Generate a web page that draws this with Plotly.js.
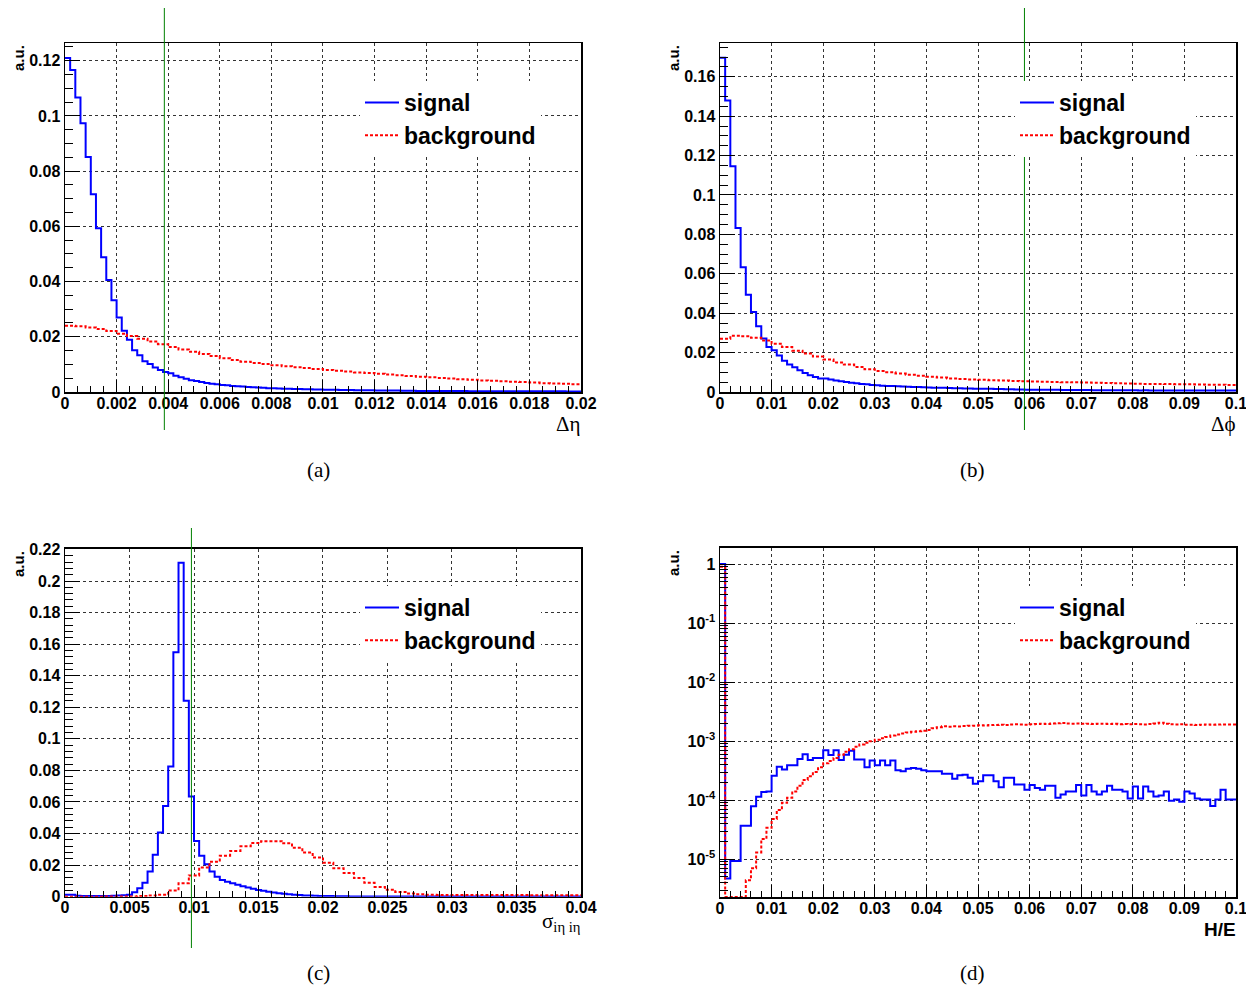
<!DOCTYPE html>
<html><head><meta charset="utf-8">
<script src="https://cdn.plot.ly/plotly-3.0.1.min.js"></script>
<style>html,body{margin:0;padding:0;background:#fff}#chart{width:1246px;height:988px}</style>
</head><body><div id="chart"></div>
<script>
// ---------------- data ----------------
const seriesNames = ['signal', 'background'];
const panelLabels = ['(a)', '(b)', '(c)', '(d)'];
const xTitles = ['Δη', 'Δϕ', 'σ<sub>iη iη</sub>', '<b>H/E</b>'];
const yTitle = 'a.u.';

// panel (a): Δη, signal 100 bins of 0.0002, background 50 bins of 0.0004
const binSigA = 0.0002, binBkgA = 0.0004;
const sigA = [0.121, 0.1166, 0.1067, 0.0973, 0.0851, 0.0716, 0.0593, 0.0488, 0.0406, 0.0332,
  0.0270, 0.0222, 0.0189, 0.0151, 0.0133, 0.0111, 0.0101, 0.0089, 0.0080, 0.0072,
  0.0068, 0.0059, 0.0053, 0.0048, 0.0043, 0.0040, 0.0036, 0.0033, 0.0030, 0.0028,
  0.0025, 0.0024, 0.0022, 0.0021, 0.0020, 0.0018, 0.0017, 0.0016, 0.0015, 0.0014,
  0.0014, 0.0013, 0.0012, 0.0012, 0.0011, 0.0011, 0.0010, 0.0010, 0.0009, 0.0009,
  0.00085, 0.0008, 0.0008, 0.00075, 0.0007, 0.0007, 0.00065, 0.00065, 0.0006, 0.0006,
  0.00055, 0.00055, 0.0005, 0.0005, 0.0005, 0.00045, 0.00045, 0.00045, 0.0004, 0.0004,
  0.0004, 0.0004, 0.00038, 0.00036, 0.00035, 0.00034, 0.00033, 0.00032, 0.00031, 0.0003,
  0.0003, 0.0003, 0.00029, 0.00028, 0.00028, 0.00027, 0.00027, 0.00026, 0.00026, 0.00025,
  0.00025, 0.00025, 0.00024, 0.00024, 0.00023, 0.00023, 0.00023, 0.00022, 0.00022, 0.00022];
const bkgA = [0.0240, 0.0238, 0.0234, 0.0228, 0.0221, 0.0211, 0.0203, 0.0193, 0.0183, 0.0173,
  0.0163, 0.0154, 0.0146, 0.0138, 0.0130, 0.0122, 0.0116, 0.0110, 0.0105, 0.0101,
  0.0097, 0.0093, 0.0090, 0.0087, 0.0083, 0.0080, 0.0077, 0.0074, 0.0071, 0.0069,
  0.0066, 0.0063, 0.0061, 0.0058, 0.0055, 0.0053, 0.0051, 0.0049, 0.0046, 0.0044,
  0.0042, 0.0041, 0.0039, 0.0037, 0.0036, 0.0034, 0.0032, 0.0031, 0.0030, 0.0028];

// panel (b): Δϕ, signal 100 bins of 0.001, background 50 bins of 0.002
const binSigB = 0.001, binBkgB = 0.002;
const sigB = [0.1697, 0.1480, 0.1146, 0.0833, 0.0633, 0.0494, 0.0406, 0.0334, 0.0271, 0.0229,
  0.0212, 0.0185, 0.0159, 0.0139, 0.0125, 0.0110, 0.0097, 0.0085, 0.0076, 0.0069,
  0.0068, 0.0063, 0.0058, 0.0054, 0.0051, 0.0047, 0.0044, 0.0041, 0.0039, 0.0036,
  0.0034, 0.0032, 0.0031, 0.0030, 0.0029, 0.0028, 0.0027, 0.0026, 0.0025, 0.0024,
  0.0023, 0.0022, 0.0021, 0.0021, 0.0020, 0.0019, 0.0019, 0.0018, 0.0018, 0.0017,
  0.0017, 0.0016, 0.0016, 0.0015, 0.0015, 0.0014, 0.0014, 0.0013, 0.0013, 0.0012,
  0.0012, 0.0012, 0.0011, 0.0011, 0.0011, 0.0011, 0.0010, 0.0010, 0.0010, 0.0010,
  0.0010, 0.0010, 0.0009, 0.0009, 0.0009, 0.0009, 0.0009, 0.0009, 0.0009, 0.0009,
  0.0009, 0.0008, 0.0009, 0.0008, 0.0008, 0.0008, 0.0008, 0.0008, 0.0008, 0.0008,
  0.0008, 0.0007, 0.0008, 0.0007, 0.0007, 0.0007, 0.0007, 0.0007, 0.0007, 0.0007];
const bkgB = [0.0270, 0.0286, 0.0283, 0.0275, 0.0262, 0.0245, 0.0228, 0.0210, 0.0195, 0.0180,
  0.0165, 0.0150, 0.0139, 0.0127, 0.0115, 0.0107, 0.0100, 0.0094, 0.0088, 0.0083,
  0.0078, 0.0074, 0.0069, 0.0066, 0.0064, 0.0062, 0.0060, 0.0058, 0.0056, 0.0055,
  0.0053, 0.0052, 0.0051, 0.0050, 0.0049, 0.0048, 0.0047, 0.0046, 0.0044, 0.0043,
  0.0042, 0.0041, 0.0041, 0.0040, 0.0039, 0.0039, 0.0038, 0.0037, 0.0037, 0.0036];

// panel (c): σiηiη, signal 100 bins of 0.0004, background 50 bins of 0.0008
const binSigC = 0.0004, binBkgC = 0.0008;
const sigC = [0.0012, 0.0012, 0.0006, 0.0005, 0.0005, 0.0005, 0.0005, 0.0005, 0.0005, 0.0006,
  0.0007, 0.0009, 0.0012, 0.0028, 0.0053, 0.0089, 0.0159, 0.0265, 0.0406, 0.0575,
  0.0825, 0.1548, 0.2115, 0.1242, 0.0635, 0.0353, 0.0260, 0.0205, 0.0159, 0.0127,
  0.0106, 0.0095, 0.0085, 0.0075, 0.0066, 0.0058, 0.0050, 0.0043, 0.0037, 0.0031,
  0.0026, 0.0022, 0.0018, 0.0015, 0.0012, 0.0010, 0.0008, 0.0007, 0.0006, 0.0005,
  0.0004, 0.0004, 0.0003, 0.0003, 0.0003, 0.0002, 0.0002, 0.0002, 0.0002, 0.0002,
  0.0002, 0.0002, 0.0002, 0.0002, 0.0002, 0.0002, 0.0002, 0.0002, 0.0002, 0.0002,
  0.0002, 0.0002, 0.0002, 0.0002, 0.0002, 0.0002, 0.0002, 0.0002, 0.0002, 0.0002,
  0.0002, 0.0002, 0.0002, 0.0002, 0.0002, 0.0002, 0.0002, 0.0002, 0.0002, 0.0002,
  0.0002, 0.0002, 0.0002, 0.0002, 0.0002, 0.0002, 0.0002, 0.0002, 0.0002, 0.0002];
const bkgC = [0, 0, 0, 0, 0.0001, 0.0001, 0.0002, 0.0004, 0.0008, 0.0012,
  0.0040, 0.0085, 0.0135, 0.0185, 0.0222, 0.0260, 0.0290, 0.0320, 0.0340, 0.0352,
  0.0352, 0.0338, 0.0310, 0.0280, 0.0248, 0.0215, 0.0180, 0.0150, 0.0118, 0.0088,
  0.0062, 0.0044, 0.0030, 0.0020, 0.0015, 0.0012, 0.0011, 0.0010, 0.0010, 0.0010,
  0.0010, 0.0010, 0.0010, 0.0010, 0.0010, 0.0009, 0.0009, 0.0009, 0.0009, 0.0009];

// panel (d): H/E, both 100 bins of 0.001 (log scale)
const binSigD = 0.001, binBkgD = 0.001;
const sigD = [1.0, 4.7e-6, 9.3e-6, 9.3e-6, 3.7e-5, 3.7e-5, 7.9e-5, 1.14e-4, 1.37e-4, 1.4e-4,
  2.6e-4, 3.67e-4, 3.3e-4, 3.9e-4, 3.9e-4, 5.0e-4, 6.0e-4, 4.8e-4, 5.2e-4, 5.2e-4,
  7.0e-4, 5.8e-4, 7.0e-4, 4.8e-4, 5.9e-4, 6.9e-4, 4.9e-4, 4.9e-4, 3.6e-4, 4.7e-4,
  3.9e-4, 4.7e-4, 3.9e-4, 4.7e-4, 3.2e-4, 3.1e-4, 3.4e-4, 3.5e-4, 3.4e-4, 3.2e-4,
  3.1e-4, 3.1e-4, 3.1e-4, 2.8e-4, 2.8e-4, 2.3e-4, 2.65e-4, 2.7e-4, 2.4e-4, 1.9e-4,
  2.1e-4, 2.65e-4, 2.65e-4, 2.1e-4, 1.65e-4, 2.4e-4, 2.4e-4, 1.85e-4, 1.85e-4, 1.5e-4,
  1.8e-4, 1.6e-4, 1.5e-4, 1.75e-4, 1.75e-4, 1.1e-4, 1.25e-4, 1.4e-4, 1.4e-4, 1.8e-4,
  1.2e-4, 1.8e-4, 1.4e-4, 1.25e-4, 1.4e-4, 1.75e-4, 1.5e-4, 1.5e-4, 1.4e-4, 1.07e-4,
  1.7e-4, 1.07e-4, 1.7e-4, 1.4e-4, 1.15e-4, 1.2e-4, 1.4e-4, 9.8e-5, 1.03e-4, 9.4e-5,
  1.4e-4, 1.3e-4, 1.07e-4, 1.03e-4, 1.03e-4, 8.0e-5, 1.03e-4, 1.5e-4, 1.03e-4, 1.03e-4];
const bkgD = [0.9, 0, 0, 0, 0, 4.4e-6, 7e-6, 1.3e-5, 2.2e-5, 3.4e-5,
  4.8e-5, 6.8e-5, 9e-5, 1.1e-4, 1.4e-4, 1.75e-4, 2.2e-4, 2.55e-4, 3.0e-4, 3.6e-4,
  4.2e-4, 4.6e-4, 5.2e-4, 5.9e-4, 6.6e-4, 7.3e-4, 8.0e-4, 8.8e-4, 9.4e-4, 1.0e-3,
  1.05e-3, 1.12e-3, 1.18e-3, 1.25e-3, 1.3e-3, 1.35e-3, 1.4e-3, 1.44e-3, 1.47e-3, 1.5e-3,
  1.55e-3, 1.65e-3, 1.72e-3, 1.78e-3, 1.75e-3, 1.78e-3, 1.77e-3, 1.8e-3, 1.82e-3, 1.83e-3,
  1.85e-3, 1.84e-3, 1.87e-3, 1.88e-3, 1.9e-3, 1.88e-3, 1.92e-3, 1.93e-3, 1.92e-3, 1.9e-3,
  1.93e-3, 1.95e-3, 1.97e-3, 1.95e-3, 1.98e-3, 2.0e-3, 2.03e-3, 1.98e-3, 1.97e-3, 1.98e-3,
  1.96e-3, 1.97e-3, 1.95e-3, 1.97e-3, 1.96e-3, 1.95e-3, 1.96e-3, 1.94e-3, 1.95e-3, 1.93e-3,
  1.95e-3, 1.94e-3, 1.92e-3, 1.95e-3, 1.98e-3, 2.05e-3, 1.96e-3, 1.93e-3, 1.92e-3, 1.94e-3,
  1.9e-3, 1.9e-3, 1.87e-3, 1.9e-3, 1.92e-3, 1.9e-3, 1.91e-3, 1.92e-3, 1.92e-3, 1.92e-3];

// cut values (green lines)
const cuts = [0.00385, 0.059, 0.0098];

// log-axis tick labels for panel (d)
const dTickVals = [1, 0.1, 0.01, 0.001, 0.0001, 0.00001];
const dTickText = ['1', '10<sup>-1</sup>', '10<sup>-2</sup>', '10<sup>-3</sup>', '10<sup>-4</sup>', '10<sup>-5</sup>'];

// ---------------- drawing ----------------
const W = 1246, H = 988;
const px = p => p / W;
const py = p => 1 - p / H;
const yMinD = Math.pow(10, -5.64);

function steps(width, vals, floor) {
  const x = [], y = [];
  vals.forEach((v, i) => { x.push(i * width); y.push(floor !== undefined && v <= 0 ? floor : v); });
  x.push(vals.length * width); y.push(y[y.length - 1]);
  return {x, y};
}

const BLUE = 'rgb(0,0,255)', RED = 'rgb(255,0,0)';
function sigTrace(width, vals, k, floor) {
  const s = steps(width, vals, floor);
  return {x: s.x, y: s.y, type: 'scatter', mode: 'lines', line: {shape: 'hv', color: BLUE, width: 2},
    name: seriesNames[0], xaxis: 'x' + (k === 1 ? '' : k), yaxis: 'y' + (k === 1 ? '' : k),
    legend: k === 1 ? 'legend' : 'legend' + k, showlegend: true, hoverinfo: 'skip'};
}
function bkgTrace(width, vals, k, floor) {
  const s = steps(width, vals, floor);
  return {x: s.x, y: s.y, type: 'scatter', mode: 'lines', line: {shape: 'hv', color: RED, width: 2, dash: '3px,2px'},
    name: seriesNames[1], xaxis: 'x' + (k === 1 ? '' : k), yaxis: 'y' + (k === 1 ? '' : k),
    legend: k === 1 ? 'legend' : 'legend' + k, showlegend: true, hoverinfo: 'skip'};
}

const data = [
  sigTrace(binSigA, sigA, 1), bkgTrace(binBkgA, bkgA, 1),
  sigTrace(binSigB, sigB, 2), bkgTrace(binBkgB, bkgB, 2),
  sigTrace(binSigC, sigC, 3), bkgTrace(binBkgC, bkgC, 3),
  sigTrace(binSigD, sigD, 4, yMinD), bkgTrace(binBkgD, bkgD, 4, yMinD)
];

const tickFont = {family: 'Liberation Sans, Arial, sans-serif', size: 16, color: '#000', weight: 'bold'};
function axis(extra) {
  return Object.assign({
    showline: true, linecolor: '#000', linewidth: 1.5, mirror: true,
    ticks: 'inside', tickcolor: '#000', tickwidth: 1,
    showgrid: true, gridcolor: '#333', griddash: 'dot', gridwidth: 1,
    zeroline: false, tickfont: tickFont, fixedrange: true, ticklabelstandoff: 0,
    ticklabeloverflow: 'allow'
  }, extra);
}
const xDomL = [px(65), px(581)], xDomR = [px(720), px(1236)];
const yDomT = [py(392), py(43.3)];
const yDomB = [py(896.7), py(548.5)];

const legFont = {family: 'Liberation Sans, Arial, sans-serif', size: 23, color: '#000', weight: 'bold'};
function leg(xp, yp) {
  return {x: px(xp), y: py(yp), xanchor: 'left', yanchor: 'top', bgcolor: '#fff', borderwidth: 0,
    font: legFont, itemwidth: 34, tracegroupgap: 0};
}

const layout = {
  width: W, height: H, margin: {l: 0, r: 0, t: 0, b: 0},
  paper_bgcolor: '#fff', plot_bgcolor: '#fff', showlegend: true,
  xaxis: axis({domain: xDomL, anchor: 'y', range: [0, 0.020001], dtick: 0.002, tick0: 0, ticklen: 12, ticklabelstandoff: -4,
    minor: {ticks: 'inside', ticklen: 6, dtick: 0.0005, tickcolor: '#000', showgrid: false}}),
  yaxis: axis({domain: yDomT, anchor: 'x', range: [0, 0.1263], dtick: 0.02, tick0: 0, ticklen: 15,
    minor: {ticks: 'inside', ticklen: 8, dtick: 0.005, tickcolor: '#000', showgrid: false}}),
  xaxis2: axis({domain: xDomR, anchor: 'y2', range: [0, 0.100001], dtick: 0.01, tick0: 0, ticklen: 12, ticklabelstandoff: -4,
    minor: {ticks: 'inside', ticklen: 6, dtick: 0.002, tickcolor: '#000', showgrid: false}}),
  yaxis2: axis({domain: yDomT, anchor: 'x2', range: [0, 0.177], dtick: 0.02, tick0: 0, ticklen: 15,
    minor: {ticks: 'inside', ticklen: 8, dtick: 0.005, tickcolor: '#000', showgrid: false}}),
  xaxis3: axis({domain: xDomL, anchor: 'y3', range: [0, 0.040001], dtick: 0.005, tick0: 0, ticklen: 12, ticklabelstandoff: -4,
    minor: {ticks: 'inside', ticklen: 6, dtick: 0.001, tickcolor: '#000', showgrid: false}}),
  yaxis3: axis({domain: yDomB, anchor: 'x3', range: [0, 0.2206], dtick: 0.02, tick0: 0, ticklen: 15,
    minor: {ticks: 'inside', ticklen: 8, dtick: 0.004, tickcolor: '#000', showgrid: false}}),
  xaxis4: axis({domain: xDomR, anchor: 'y4', range: [0, 0.100001], dtick: 0.01, tick0: 0, ticklen: 12, ticklabelstandoff: -4,
    minor: {ticks: 'inside', ticklen: 6, dtick: 0.002, tickcolor: '#000', showgrid: false}}),
  yaxis4: axis({domain: [py(897), py(547.7)], anchor: 'x4', type: 'log', range: [-5.64, 0.276],
    tickmode: 'array', tickvals: dTickVals, ticktext: dTickText, ticklen: 15,
    minor: {ticks: 'inside', ticklen: 8, dtick: 'D1', tickcolor: '#000', showgrid: false}}),
  legend: leg(360, 81),
  legend2: leg(1015, 81),
  legend3: leg(360, 586),
  legend4: leg(1015, 586),
  shapes: [
    {type: 'line', xref: 'x', yref: 'paper', x0: cuts[0], x1: cuts[0], y0: py(430), y1: py(8), line: {color: 'rgb(0,128,0)', width: 1}},
    {type: 'line', xref: 'x2', yref: 'paper', x0: cuts[1], x1: cuts[1], y0: py(430), y1: py(8), line: {color: 'rgb(0,128,0)', width: 1}},
    {type: 'line', xref: 'x3', yref: 'paper', x0: cuts[2], x1: cuts[2], y0: py(948), y1: py(528), line: {color: 'rgb(0,128,0)', width: 1}}
  ],
  annotations: []
};

const capFont = {family: 'Liberation Serif, Times New Roman, serif', size: 21, color: '#000'};
const capPos = [[318, 470], [972, 470], [318, 973], [972, 973]];
panelLabels.forEach((t, i) => layout.annotations.push({text: t, xref: 'paper', yref: 'paper',
  x: px(capPos[i][0]), y: py(capPos[i][1]), xanchor: 'center', yanchor: 'middle', showarrow: false, font: capFont}));

const auPos = [[18, 43], [673, 43], [18, 549], [673, 548]];
auPos.forEach(p => layout.annotations.push({text: '<b>' + yTitle + '</b>', xref: 'paper', yref: 'paper',
  x: px(p[0]), y: py(p[1]), xanchor: 'center', yanchor: 'top', textangle: -90, showarrow: false,
  font: {family: 'Liberation Sans, Arial, sans-serif', size: 15, color: '#000'}}));

const xtPos = [[583, 424], [1238, 424], [583, 922], [1238, 929]];
xTitles.forEach((t, i) => layout.annotations.push({text: t, xref: 'paper', yref: 'paper',
  x: px(xtPos[i][0]), y: py(xtPos[i][1]), xanchor: 'right', yanchor: 'middle', showarrow: false,
  font: i === 3 ? {family: 'Liberation Sans, Arial, sans-serif', size: 19, color: '#000'}
               : {family: 'Liberation Serif, Times New Roman, serif', size: 21, color: '#000'}}));

Plotly.newPlot('chart', data, layout, {displayModeBar: false, staticPlot: true});
</script>
</body></html>
